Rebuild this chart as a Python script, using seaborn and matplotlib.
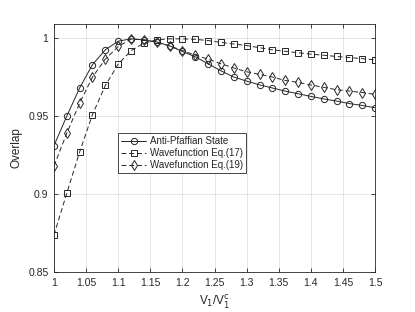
import numpy as np
import pandas as pd
import matplotlib
matplotlib.use("Agg")
import matplotlib.pyplot as plt
import seaborn as sns

# x values: V1 / V1^c
ratio = [1.00, 1.02, 1.04, 1.06, 1.08, 1.10, 1.12, 1.14, 1.16, 1.18, 1.20, 1.22, 1.24,
         1.26, 1.28, 1.30, 1.32, 1.34, 1.36, 1.38, 1.40, 1.42, 1.44, 1.46, 1.48, 1.50]

# overlaps
anti_pfaffian = [0.931, 0.950, 0.968, 0.983, 0.9925, 0.998, 0.9995, 0.9988, 0.9975, 0.995,
                 0.9914, 0.988, 0.9835, 0.979, 0.975, 0.9724, 0.970, 0.968, 0.966, 0.9643,
                 0.9626, 0.961, 0.9596, 0.958, 0.9568, 0.9553]
eq17 = [0.8737, 0.9006, 0.927, 0.951, 0.9696, 0.9833, 0.9919, 0.9968, 0.9989, 0.9995,
        0.9995, 0.9992, 0.9984, 0.9972, 0.9962, 0.9952, 0.9938, 0.9925, 0.9915, 0.9906,
        0.9897, 0.989, 0.9882, 0.9875, 0.9868, 0.986]
eq19 = [0.918, 0.939, 0.9583, 0.975, 0.9865, 0.9946, 0.9994, 0.9989, 0.9972, 0.995,
        0.992, 0.989, 0.9865, 0.9835, 0.9808, 0.9784, 0.9767, 0.975, 0.9728, 0.9716,
        0.9699, 0.9684, 0.9669, 0.966, 0.9651, 0.9639]

labels = ["Anti-Pfaffian State", "Wavefunction Eq.(17)", "Wavefunction Eq.(19)"]

df = pd.DataFrame({
    "ratio": ratio * 3,
    "overlap": anti_pfaffian + eq17 + eq19,
    "series": [labels[0]] * len(ratio) + [labels[1]] * len(ratio) + [labels[2]] * len(ratio),
})

sns.set_style("whitegrid")
plt.rcParams["font.family"] = ["Liberation Sans", "DejaVu Sans"]
plt.rcParams["font.size"] = 8

fig = plt.figure(figsize=(4.15, 3.12), dpi=100)
ax = fig.add_axes([0.130, 0.128, 0.774, 0.795])

# marker, marker size, dash pattern (None = solid)
styles = {
    labels[0]: ("o", 4.5, None),
    labels[1]: ("s", 4.0, (5, 3)),
    labels[2]: ("d", 5.0, (5, 3)),
}
line_color = "#262626"
for name in labels:
    sub = df[df["series"] == name]
    mk, ms, dash = styles[name]
    kw = {} if dash is None else {"dashes": dash}
    sns.lineplot(data=sub, x="ratio", y="overlap", ax=ax, color=line_color, lw=0.7,
                 marker=mk, markersize=ms, markerfacecolor="none",
                 markeredgecolor=line_color, markeredgewidth=0.7, label=name, **kw)

ax.set_xlim(1, 1.5)
ax.set_ylim(0.85, 1.009)
ax.set_xticks(np.arange(1, 1.501, 0.05))
ax.set_xticklabels(["1", "1.05", "1.1", "1.15", "1.2", "1.25", "1.3", "1.35", "1.4", "1.45", "1.5"])
ax.set_yticks([0.85, 0.9, 0.95, 1])
ax.set_yticklabels(["0.85", "0.9", "0.95", "1"])
ax.set_xlabel(r"V$_1$/V$_1^\mathrm{c}$", fontsize=8.5, color="#262626")
ax.set_ylabel("Overlap", fontsize=8.5, color="#262626")

ax.grid(True, color="#e0e0e0", lw=0.6)
for s in ax.spines.values():
    s.set_visible(True)
    s.set_color("#262626")
    s.set_linewidth(0.6)
ax.tick_params(direction="in", length=3, width=0.6, colors="#262626", labelsize=7.5,
               top=True, right=True, bottom=True, left=True, pad=4)

leg = ax.legend(loc="lower left", bbox_to_anchor=(0.2, 0.40), fontsize=7, frameon=True,
                fancybox=False, edgecolor="#262626", framealpha=1, handlelength=2.6,
                borderpad=0.3, labelspacing=0.2, handletextpad=0.4, borderaxespad=0)
leg.get_frame().set_linewidth(0.6)

fig.savefig("out.png", dpi=100)
plt.close(fig)
